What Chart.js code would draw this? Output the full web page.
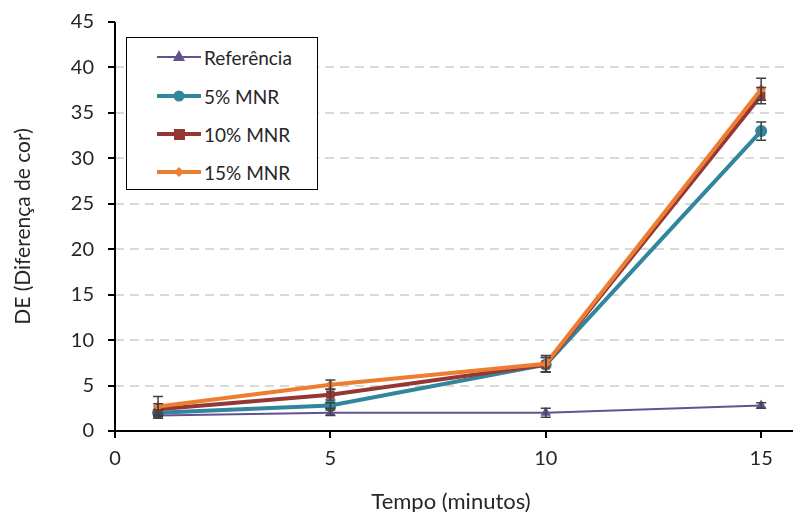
<!DOCTYPE html>
<html lang="pt">
<head>
<meta charset="UTF-8">
<script src="https://cdn.jsdelivr.net/npm/chart.js"></script>
<title>DE x Tempo</title>
<style>
  body { margin: 0; background: #fff; font-family: Lato, "Open Sans", sans-serif; }
  #wrap { position: relative; width: 793px; height: 512px; }
  #legend {
    position: absolute; left: 126px; top: 37px; width: 192px; height: 153px;
    border: 1.5px solid #000; background: #fff; box-sizing: border-box;
  }
  .row { position: absolute; left: 30px; height: 20px; display: flex; align-items: center; font-size: 19px; color: #262626; }
  .row svg { margin-right: 3px; }
</style>
</head>
<body>
<div id="wrap">
  <canvas id="myChart" width="793" height="512"></canvas>
  <div id="legend"></div>
</div>
<script>
const times = [1, 5, 10, 15];
const labels = ['Referência', '5% MNR', '10% MNR', '15% MNR'];
const ref = [1.7, 2.0, 2.0, 2.8];
const mnr5 = [2.0, 2.8, 7.3, 33.0];
const mnr10 = [2.4, 4.0, 7.3, 36.9];
const mnr15 = [2.7, 5.1, 7.4, 37.6];
const errRef = [0.3, 0.3, 0.5, 0.3];
const err5 = [0.3, 0.3, 0.8, 1.0];
const err10 = [0.6, 0.6, 0.8, 0.9];
const err15 = [1.1, 0.5, 0.9, 1.2];
const yTicks = [0, 5, 10, 15, 20, 25, 30, 35, 40, 45];
const xTicks = [0, 5, 10, 15];

const colors = ['#65518f', '#31859c', '#953735', '#ed7d31'];
const widths = [2, 4, 4, 4];
const shapes = ['triangle', 'circle', 'rect', 'rectRot'];
const radii = [6, 6, 6, 5];
const values = [ref, mnr5, mnr10, mnr15];
const errors = [errRef, err5, err10, err15];

function pts(arr) { return arr.map((v, i) => ({ x: times[i], y: v })); }

const datasets = values.map((arr, k) => ({
  label: labels[k],
  data: pts(arr),
  borderColor: colors[k],
  backgroundColor: colors[k],
  borderWidth: widths[k],
  pointStyle: shapes[k],
  pointRadius: radii[k],
  pointBorderWidth: 0,
  tension: 0,
  order: 4 - k
}));

const errorBars = {
  id: 'errorBars',
  afterDatasetsDraw(chart) {
    const c = chart.ctx, xs = chart.scales.x, ys = chart.scales.y;
    c.save();
    c.strokeStyle = '#404040';
    c.lineWidth = 1.5;
    errors.forEach((errs, k) => {
      errs.forEach((e, i) => {
        const px = xs.getPixelForValue(times[i]);
        const top = ys.getPixelForValue(values[k][i] + e);
        const bot = ys.getPixelForValue(values[k][i] - e);
        c.beginPath();
        c.moveTo(px, top); c.lineTo(px, bot);
        c.moveTo(px - 5, top); c.lineTo(px + 5, top);
        c.moveTo(px - 5, bot); c.lineTo(px + 5, bot);
        c.stroke();
      });
    });
    c.restore();
  }
};

const axisLines = {
  id: 'axisLines',
  afterDraw(chart) {
    const c = chart.ctx, a = chart.chartArea;
    c.save();
    c.strokeStyle = '#000';
    c.lineWidth = 2;
    c.beginPath();
    c.moveTo(a.left, a.top); c.lineTo(a.left, a.bottom); c.lineTo(chart.width, a.bottom);
    c.stroke();
    c.restore();
  }
};

new Chart(document.getElementById('myChart'), {
  type: 'line',
  data: { datasets },
  plugins: [errorBars, axisLines],
  options: {
    responsive: false,
    animation: false,
    layout: { padding: { top: 22, right: 0, left: 0, bottom: 0 } },
    plugins: { legend: { display: false }, tooltip: { enabled: false } },
    scales: {
      x: {
        type: 'linear', min: 0, max: 15.6,
        afterBuildTicks: s => { s.ticks = xTicks.map(v => ({ value: v })); },
        afterFit: s => { s.height = 81; s.paddingRight = 0; },
        grid: { drawOnChartArea: false, drawTicks: true, tickLength: 7, color: '#000', lineWidth: 2 },
        border: { display: false },
        ticks: { color: '#262626', font: { family: 'Lato', size: 20 }, padding: 9, maxRotation: 0 },
        title: { display: true, text: 'Tempo (minutos)', color: '#262626', font: { family: 'Lato', size: 22, lineHeight: 1 }, padding: { top: 0, bottom: -1 } }
      },
      y: {
        min: 0, max: 45,
        afterBuildTicks: s => { s.ticks = yTicks.map(v => ({ value: v })); },
        afterFit: s => { s.width = 115; s.paddingTop = 0; s.paddingBottom = 0; },
        grid: {
          color: c => c.tick.value === 0 || c.tick.value === 45 ? 'rgba(0,0,0,0)' : '#d9d9d9',
          lineWidth: 2, tickLength: 7, tickColor: '#000',
          drawTicks: true
        },
        border: { display: false, dash: [9, 6] },
        ticks: { color: '#262626', font: { family: 'Lato', size: 20 }, padding: 14 },
        title: { display: true, text: 'DE (Diferença de cor)', color: '#262626', font: { family: 'Lato', size: 21, lineHeight: 1 }, padding: { top: 13, bottom: 0 } }
      }
    }
  }
});

// legenda
const leg = document.getElementById('legend');
const rowTops = [9, 48, 86, 124];
labels.forEach((lab, k) => {
  const row = document.createElement('div');
  row.className = 'row';
  row.style.top = rowTops[k] + 'px';
  const col = colors[k];
  let mark = '';
  if (shapes[k] === 'triangle') mark = `<polygon points="22,3 28,14 16,14" fill="${col}"/>`;
  if (shapes[k] === 'circle') mark = `<circle cx="22" cy="10" r="5.5" fill="${col}"/>`;
  if (shapes[k] === 'rect') mark = `<rect x="17" y="5" width="11" height="11" fill="${col}"/>`;
  if (shapes[k] === 'rectRot') mark = `<polygon points="22,5 27,10 22,15 17,10" fill="${col}"/>`;
  row.innerHTML = `<svg width="44" height="20"><line x1="0" y1="10" x2="44" y2="10" stroke="${col}" stroke-width="${widths[k]}"/>${mark}</svg><span>${lab}</span>`;
  leg.appendChild(row);
});
</script>
</body>
</html>
